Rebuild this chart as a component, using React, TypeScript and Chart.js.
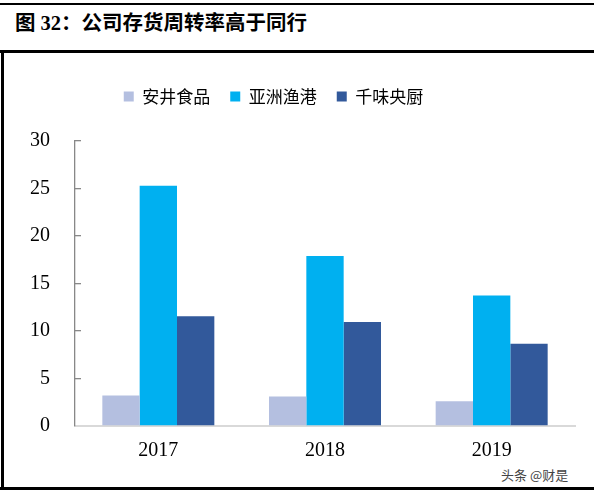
import React, { useEffect, useRef } from 'react';
import { Chart, registerables } from 'chart.js';

Chart.register(...registerables);

const years = ['2017', '2018', '2019'];
const seriesNames = ['安井食品', '亚洲渔港', '千味央厨'];
const anjingValues = [3.2, 3.1, 2.6];
const yazhouValues = [25.3, 17.9, 13.75];
const qianweiValues = [11.55, 10.95, 8.65];
const seriesColors = ['#b4bfe0', '#00b0f0', '#32599b'];
const yMin = 0;
const yMax = 30;
const yStep = 5;

const titleText = '图 32：公司存货周转率高于同行';
const watermarkText = '头条 @财是';

const LEGEND_EXTRA = 26;
const LEGEND_SHIFT = -14;

const legendTweak = {
  id: 'legendTweak',
  beforeLayout(chart: any) {
    const lg = chart.legend;
    if (lg && !lg.__patched) {
      const orig = lg.fit;
      lg.fit = function () {
        orig.call(this);
        this.height += LEGEND_EXTRA;
      };
      lg.__patched = true;
    }
  },
  afterLayout(chart: any) {
    const lg = chart.legend;
    if (lg) {
      lg.left += LEGEND_SHIFT;
      lg.right += LEGEND_SHIFT;
    }
  },
};

export default function App() {
  const ref = useRef<HTMLCanvasElement | null>(null);

  useEffect(() => {
    document.body.style.margin = '0';
    if (!ref.current) return;
    const serif = '"Liberation Serif", "Times New Roman", serif';
    const cjk = '"Noto Sans CJK SC", sans-serif';
    const chart = new Chart(ref.current, {
      type: 'bar',
      data: {
        labels: years,
        datasets: [
          { label: seriesNames[0], data: anjingValues, backgroundColor: seriesColors[0] },
          { label: seriesNames[1], data: yazhouValues, backgroundColor: seriesColors[1] },
          { label: seriesNames[2], data: qianweiValues, backgroundColor: seriesColors[2] },
        ],
      },
      options: {
        animation: false,
        responsive: true,
        maintainAspectRatio: false,
        datasets: {
          bar: { categoryPercentage: 0.672, barPercentage: 1 },
        },
        layout: { padding: { top: 68, left: 0, right: 19, bottom: 0 } },
        plugins: {
          title: { display: false },
          tooltip: { enabled: false },
          legend: {
            display: true,
            position: 'top',
            labels: {
              boxWidth: 10,
              boxHeight: 10,
              padding: 20,
              color: '#000',
              font: { family: cjk, size: 17 },
            },
          },
        },
        scales: {
          x: {
            grid: { display: false, drawTicks: false },
            border: { display: true, color: '#d9d9d9', width: 2 },
            ticks: {
              color: '#000',
              font: { family: serif, size: 20 },
              padding: 13,
            },
            afterFit(scale: any) {
              scale.height = 70;
            },
          },
          y: {
            min: yMin,
            max: yMax,
            ticks: {
              stepSize: yStep,
              color: '#000',
              font: { family: serif, size: 20 },
              padding: 31,
            },
            grid: {
              display: true,
              drawOnChartArea: false,
              drawTicks: true,
              tickLength: -6,
              color: '#888888',
              lineWidth: 1.3,
            },
            border: { display: true, color: '#888888', width: 1.3 },
            afterFit(scale: any) {
              scale.width = 75;
            },
          },
        },
      },
      plugins: [legendTweak],
    });
    return () => chart.destroy();
  }, []);

  const line = (style: React.CSSProperties) => (
    <div style={{ position: 'absolute', background: '#000', ...style }} />
  );

  return (
    <div style={{ position: 'relative', width: 594, height: 496, background: '#fff', overflow: 'hidden' }}>
      {line({ left: 0, top: 3, width: 594, height: 2 })}
      <div
        style={{
          position: 'absolute',
          left: 15,
          top: 13,
          height: 21,
          lineHeight: '21px',
          fontSize: 20.5,
          fontWeight: 'bold',
          fontFamily: '"Liberation Serif", "Noto Sans CJK SC", serif',
          color: '#000',
          whiteSpace: 'nowrap',
        }}
      >
        {titleText}
      </div>
      {line({ left: 0, top: 49.5, width: 594, height: 3 })}
      {line({ left: 1, top: 51, width: 2.5, height: 437 })}
      {line({ left: 0, top: 487, width: 594, height: 3 })}
      <div
        style={{
          position: 'absolute',
          left: 501,
          top: 467,
          fontSize: 13,
          lineHeight: '15px',
          fontFamily: '"Noto Sans CJK SC", sans-serif',
          color: '#444',
          whiteSpace: 'nowrap',
        }}
      >
        {watermarkText}
      </div>
      <div style={{ position: 'absolute', left: 0, top: 0, width: 594, height: 496 }}>
        <canvas ref={ref} />
      </div>
    </div>
  );
}
